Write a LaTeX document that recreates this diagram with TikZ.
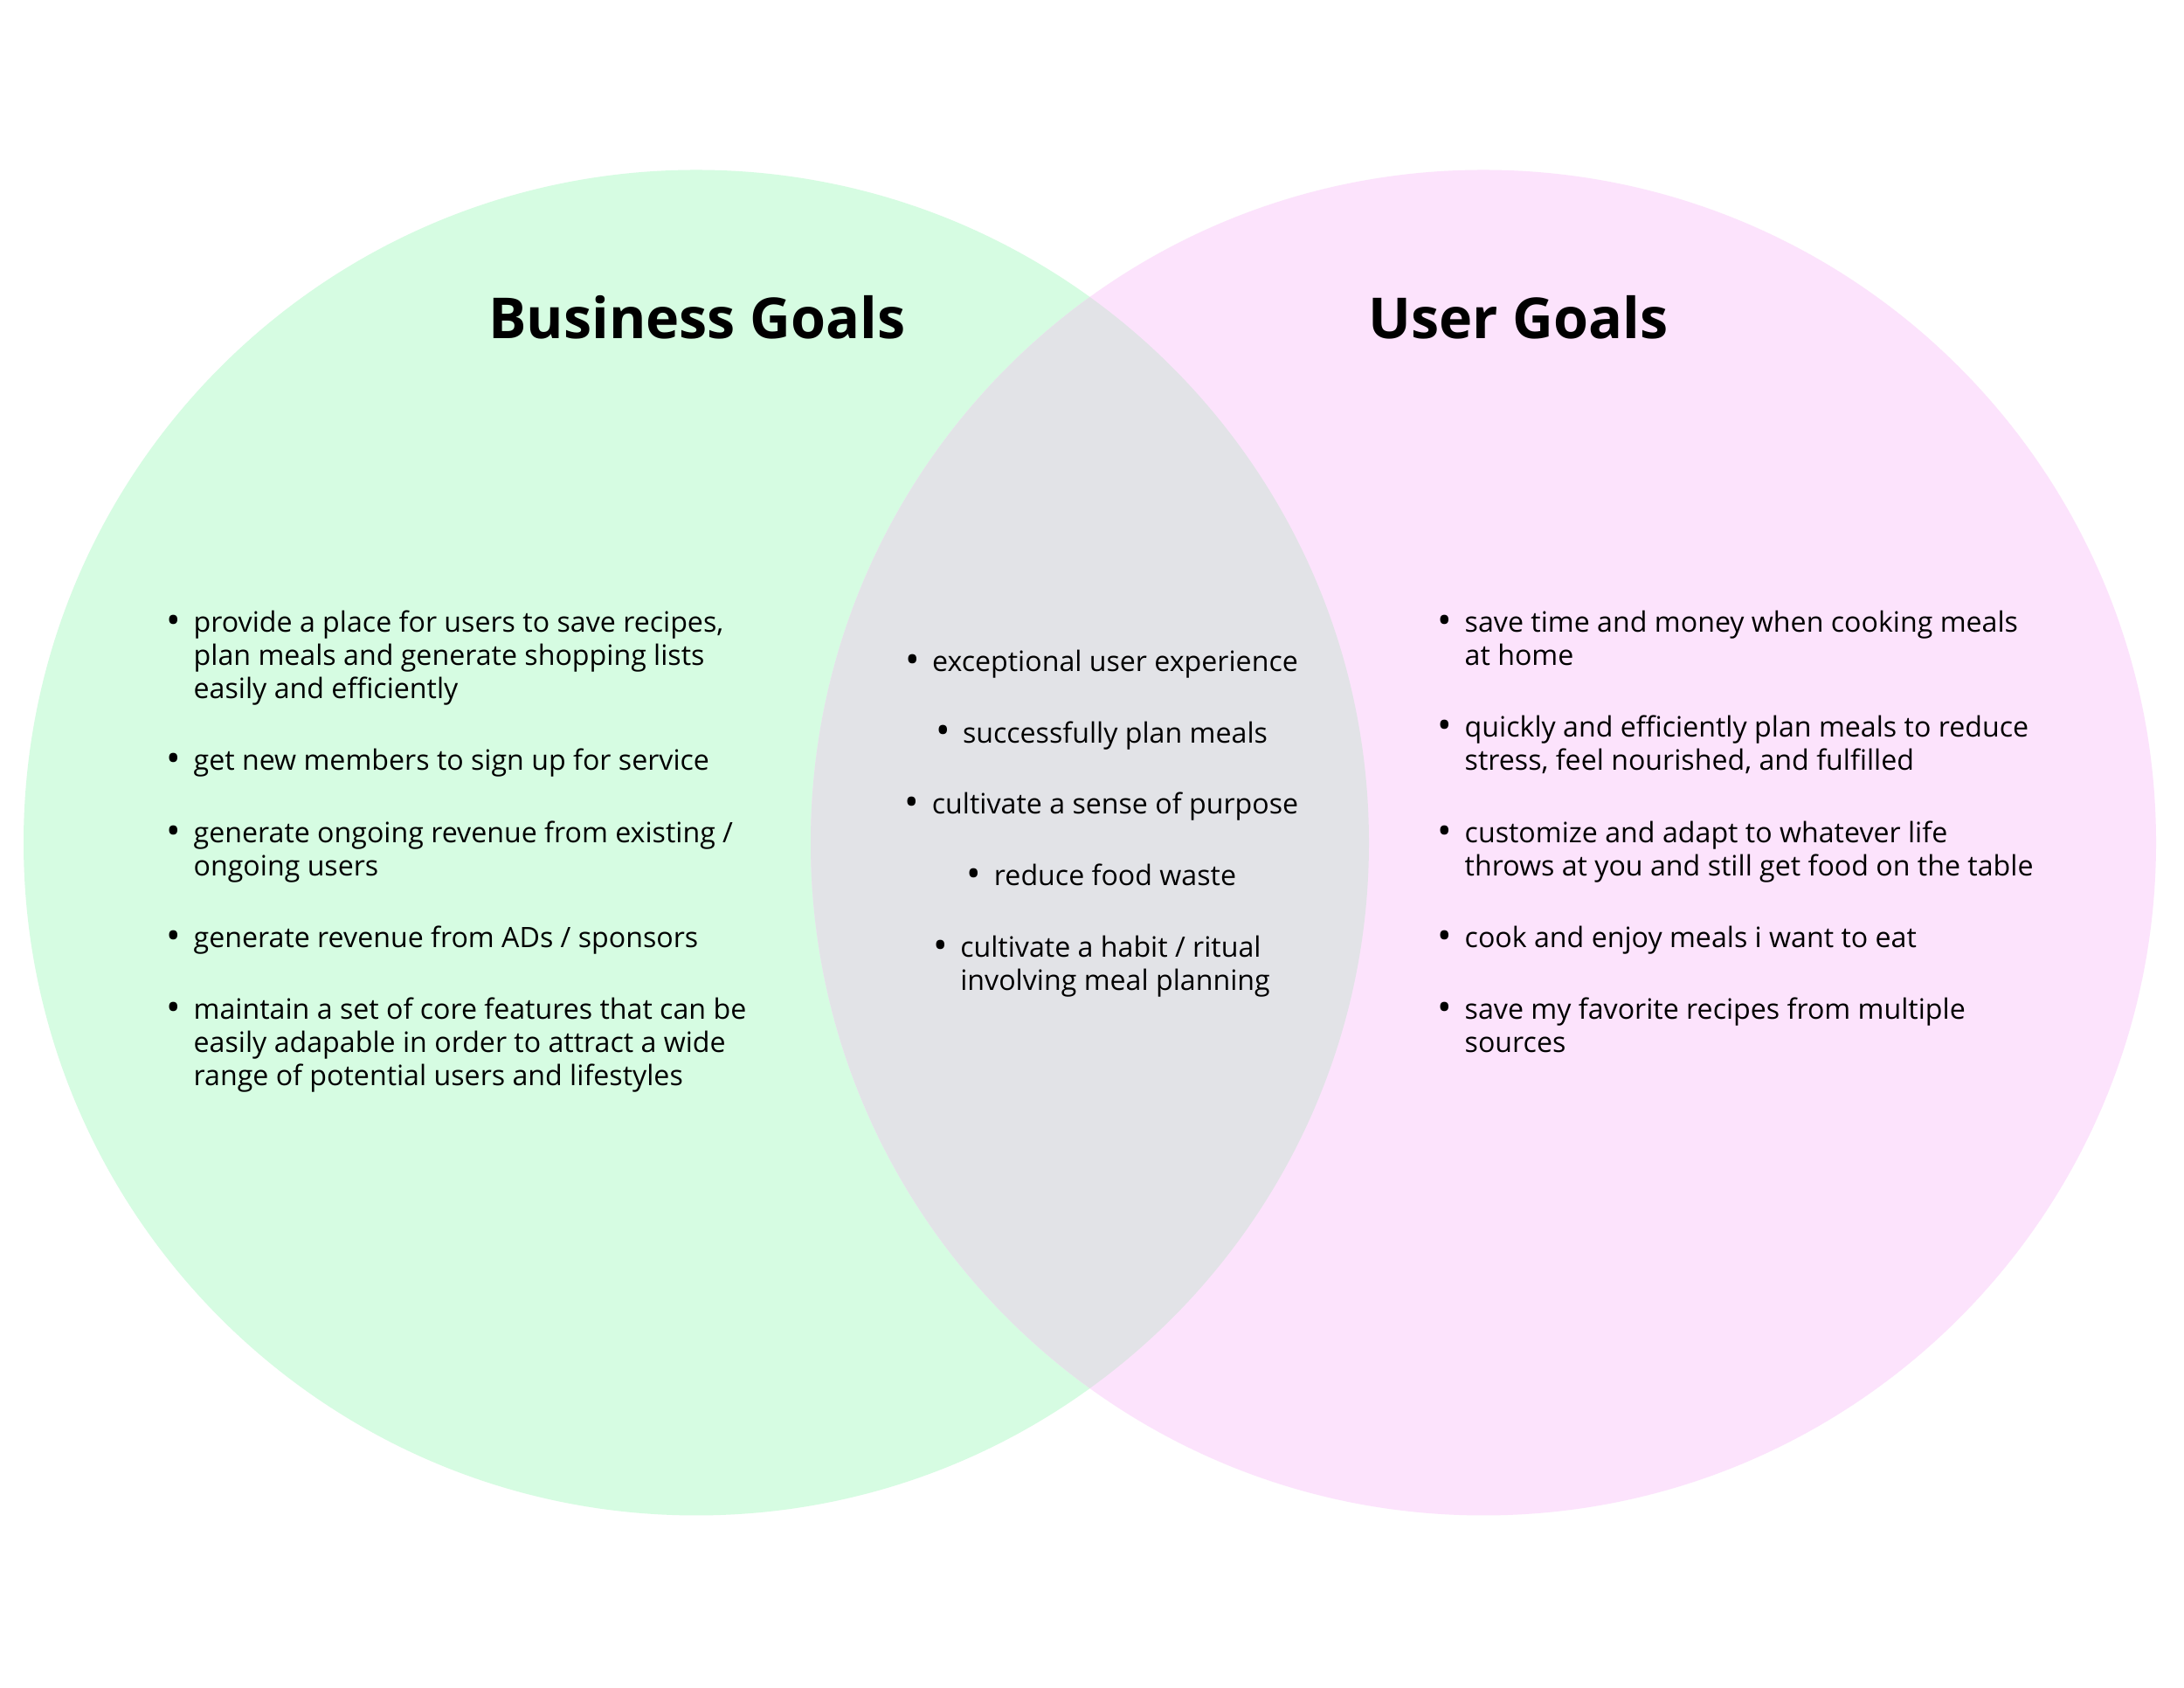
\documentclass[tikz,border=0pt]{standalone}
\usepackage{fontspec}
\setmainfont{Open Sans}
\definecolor{bizgreen}{RGB}{214, 252, 226}
\definecolor{userpink}{RGB}{252, 227, 252}
\definecolor{sharedgray}{RGB}{226, 227, 231}
\usetikzlibrary{positioning}
\newcommand{\bl}{\makebox[0.31cm][l]{\raisebox{-0.5pt}{\fontsize{12.5}{12.5}\selectfont\textbullet}}\strut}
\newcommand{\goalind}{\hspace*{0.31cm}\strut}
\tikzset{
	goal/.style={inner sep=0pt, align=left, font=\fontsize{9.15}{10.8}\selectfont},
	midgoal/.style={inner sep=0pt, align=center, font=\fontsize{9.15}{10.8}\selectfont},
	goaltitle/.style={inner sep=0pt, anchor=base, font=\bfseries\fontsize{18.4}{22}\selectfont},
}

\begin{document}
\begin{tikzpicture}
		\path[fill=white, use as bounding box] (0,0) rectangle (25,19.32);
		\coordinate (bizc) at (7.97,9.675);
		\coordinate (userc) at (16.98,9.675);
		% the two sets and their overlap
		\fill[bizgreen] (bizc) circle (7.70);
		\fill[userpink] (userc) circle (7.70);
		\begin{scope}
			\clip (bizc) circle (7.70);
			\fill[sharedgray] (userc) circle (7.70);
		\end{scope}
		\node[goaltitle] (biztitle) at (7.98,15.44) {Business Goals};
		\node[goaltitle] (usertitle) at (17.38,15.44) {User Goals};
		% business goals
		\node[goal, anchor=north west] (b1) at (1.90,12.356) {\bl provide a place for users to save recipes,\\\goalind plan meals and generate shopping lists\\\goalind easily and efficiently};
		\node[goal, below=0.43cm of b1.south west, anchor=north west] (b2) {\bl get new members to sign up for service};
		\node[goal, below=0.43cm of b2.south west, anchor=north west] (b3) {\bl generate ongoing revenue from existing /\\\goalind ongoing users};
		\node[goal, below=0.43cm of b3.south west, anchor=north west] (b4) {\bl generate revenue from ADs / sponsors};
		\node[goal, below=0.43cm of b4.south west, anchor=north west] (b5) {\bl maintain a set of core features that can be\\\goalind easily adapable in order to attract a wide\\\goalind range of potential users and lifestyles};
		% shared goals
		\node[midgoal, anchor=north] (m1) at (12.61,11.91) {\bl exceptional user experience};
		\node[midgoal, below=0.425cm of m1] (m2) {\bl successfully plan meals};
		\node[midgoal, below=0.425cm of m2] (m3) {\bl cultivate a sense of purpose};
		\node[midgoal, below=0.425cm of m3] (m4) {\bl reduce food waste};
		\node[midgoal, align=left, below=0.425cm of m4] (m5) {\bl cultivate a habit / ritual\\\goalind involving meal planning};
		% user goals
		\node[goal, anchor=north west] (u1) at (16.45,12.356) {\bl save time and money when cooking meals\\\goalind at home};
		\node[goal, below=0.43cm of u1.south west, anchor=north west] (u2) {\bl quickly and efficiently plan meals to reduce\\\goalind stress, feel nourished, and fulfilled};
		\node[goal, below=0.43cm of u2.south west, anchor=north west] (u3) {\bl customize and adapt to whatever life\\\goalind throws at you and still get food on the table};
		\node[goal, below=0.43cm of u3.south west, anchor=north west] (u4) {\bl cook and enjoy meals i want to eat};
		\node[goal, below=0.43cm of u4.south west, anchor=north west] (u5) {\bl save my favorite recipes from multiple\\\goalind sources};
	\end{tikzpicture}
\end{document}
